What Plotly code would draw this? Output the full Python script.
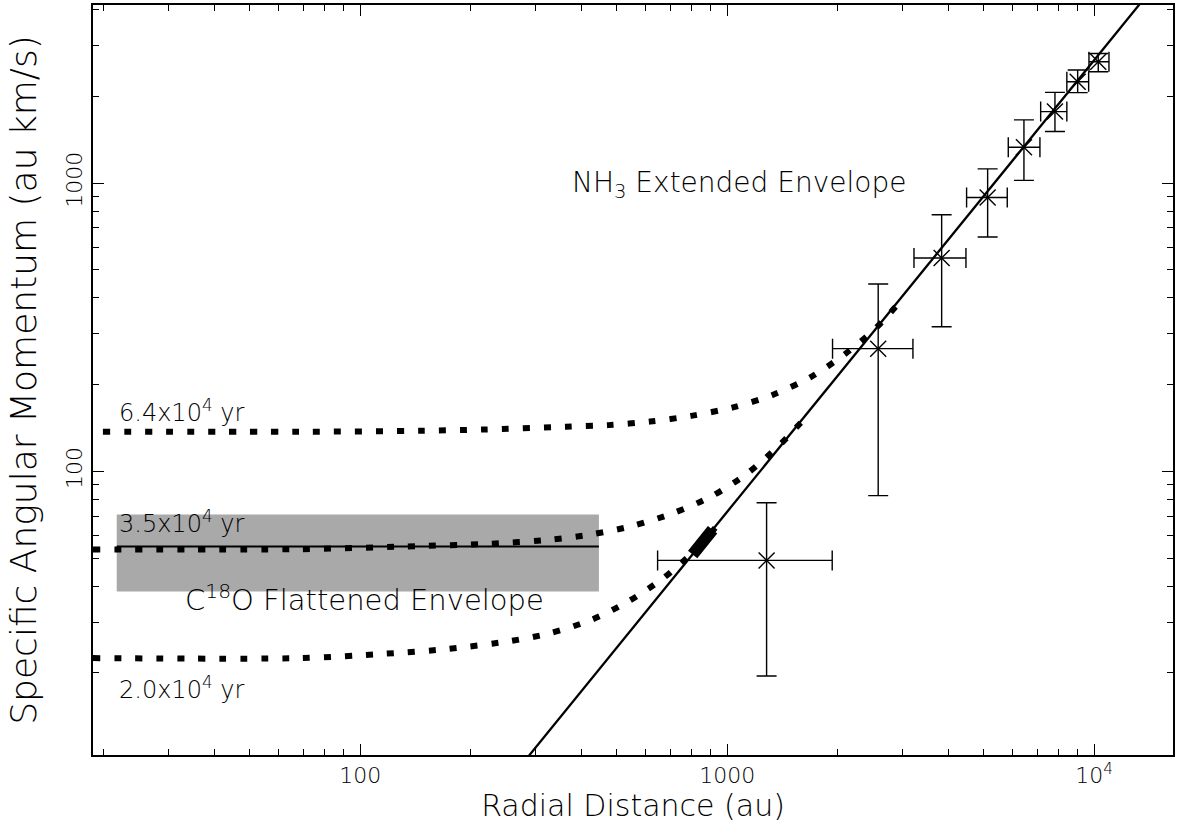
import plotly.graph_objects as go
import numpy as np

# ---- data ----
# NH3 extended-envelope measurements
r_pts = [1280, 2578, 3839, 5123, 6433, 7815, 9012, 10254]
r_lo = [646, 1936, 3227, 4489, 5831, 7145, 8420, 9674]
r_hi = [1932, 3206, 4471, 5794, 7112, 8420, 9654, 10967]
j_pts = [49.1, 266.5, 550, 892, 1332, 1771, 2248, 2637]
j_lo = [19.5, 82.4, 317.5, 650, 1022, 1510, 2060, 2435]
j_hi = [77.8, 447, 777, 1121, 1657, 2065, 2469, 2817]

# power-law fit line (end points)
fit_r = [280, 14000]
fit_j = [9.86, 4529]

# model curves (dotted)
c64_r = [19.9, 68.5, 146.3, 216, 363.5, 474, 616, 798, 1032, 1324, 1680, 2089, 2547, 3044]
c64_j = [137.2, 137.2, 138.3, 139.7, 142.8, 144.7, 148.9, 155.8, 166.5, 183.8, 211.5, 254.8, 315, 404.5]
c35_r = [18.7, 68.5, 133.2, 225.6, 333, 433.5, 557.9, 715.8, 910, 1134, 1383, 1652]
c35_j = [53.6, 53.7, 54.9, 56.1, 58.0, 60.7, 64.9, 71.8, 82.2, 98.4, 122.7, 156.2]
c20_r = [18.7, 68.5, 116.8, 173.4, 257.4, 330.8, 427.9, 539.7, 669.3, 826.8, 969]
c20_j = [22.5, 22.5, 23.3, 24.2, 25.8, 27.5, 30.6, 35.5, 42.6, 54.0, 68.1]
blob_r = [805, 912]
blob_j = [51.5, 62.7]

# C18O flattened envelope band
band_r = [21.7, 447]
band_j = [38.3, 70.8]
band_level = 54.9

x_major = [100, 1000, 10000]
x_major_text = ["100", "1000", "10<sup>4</sup>"]
y_major = [100, 1000]
y_major_text = ["100", "1000"]

FONT = "DejaVu Sans"
WEIGHT = 200
TXT = "black"

fig = go.Figure()

# gray band
fig.add_trace(go.Scatter(
    x=[band_r[0], band_r[1], band_r[1], band_r[0], band_r[0]],
    y=[band_j[0], band_j[0], band_j[1], band_j[1], band_j[0]],
    fill="toself", fillcolor="#a9a9a9", mode="none", hoverinfo="skip"))
fig.add_trace(go.Scatter(x=band_r, y=[band_level, band_level], mode="lines",
                         line=dict(color="black", width=2)))

# dotted model curves
for cr, cj in [(c64_r, c64_j), (c35_r, c35_j), (c20_r, c20_j)]:
    fig.add_trace(go.Scatter(x=cr, y=cj, mode="lines",
                             line=dict(color="black", width=6, dash="7px,14px",
                                       shape="spline", smoothing=0.8)))
fig.add_trace(go.Scatter(x=blob_r, y=blob_j, mode="lines",
                         line=dict(color="black", width=12)))

# fit line
fig.add_trace(go.Scatter(x=fit_r, y=fit_j, mode="lines",
                         line=dict(color="black", width=2.3)))

# data points with error bars
fig.add_trace(go.Scatter(
    x=r_pts, y=j_pts, mode="markers",
    marker=dict(symbol="x-thin", size=16, line=dict(color="black", width=1.4)),
    error_x=dict(type="data", symmetric=False,
                 array=[h - v for h, v in zip(r_hi, r_pts)],
                 arrayminus=[v - l for l, v in zip(r_lo, r_pts)],
                 color="black", thickness=1.4, width=10),
    error_y=dict(type="data", symmetric=False,
                 array=[h - v for h, v in zip(j_hi, j_pts)],
                 arrayminus=[v - l for l, v in zip(j_lo, j_pts)],
                 color="black", thickness=1.4, width=10)))

def minor_vals(lo, hi):
    vals = []
    for e in range(lo, hi):
        for k in range(2, 10):
            vals.append(k * 10 ** e)
    return vals

axis_common = dict(
    type="log", showgrid=False, zeroline=False,
    showline=True, linecolor="black", linewidth=1.5, mirror="ticks",
    ticks="inside", ticklen=11, tickwidth=1.3, tickcolor="black",
    tickfont=dict(family=FONT, size=22, color=TXT, weight=WEIGHT),
    minor=dict(ticks="inside", ticklen=6, tickwidth=1.3, tickcolor="black",
               tickmode="array", showgrid=False),
)

fig.update_xaxes(**axis_common)
fig.update_xaxes(range=[np.log10(18.7), np.log10(16390)],
                 tickmode="array", tickvals=x_major, ticktext=x_major_text,
                 minor_tickvals=minor_vals(1, 5),
                 title=dict(text="Radial Distance (au)",
                            font=dict(family=FONT, size=30, color=TXT, weight=WEIGHT),
                            standoff=8))
fig.update_yaxes(**axis_common)
fig.update_yaxes(range=[1.016, 3.618],
                 tickmode="array", tickvals=y_major, ticktext=y_major_text,
                 tickangle=-90,
                 minor_tickvals=minor_vals(1, 4),
                 title=dict(text="Specific Angular Momentum (au km/s)",
                            font=dict(family=FONT, size=36, color=TXT, weight=WEIGHT),
                            standoff=15))

big_font = dict(family=FONT, size=28, color=TXT, weight=WEIGHT)
c18_font = dict(family=FONT, size=29, color=TXT, weight=WEIGHT)
small_font = dict(family=FONT, size=24, color=TXT, weight=WEIGHT)
labels = [
    ("NH<sub>3</sub> Extended Envelope", 373, 990, big_font),
    ("6.4x10<sup>4</sup> yr", 21.7, 162.2, small_font),
    ("3.5x10<sup>4</sup> yr", 21.7, 66.5, small_font),
    ("C<sup>18</sup>O Flattened Envelope", 32.9, 36.3, c18_font),
    ("2.0x10<sup>4</sup> yr", 21.7, 17.7, small_font),
]
for txt, xv, yv, fnt in labels:
    fig.add_annotation(x=np.log10(xv), y=np.log10(yv), xref="x", yref="y",
                       text=txt, showarrow=False, xanchor="left", yanchor="middle",
                       font=fnt)

fig.update_layout(
    width=1178, height=830,
    margin=dict(l=93, r=5, t=3, b=75),
    plot_bgcolor="white", paper_bgcolor="white",
    showlegend=False,
    font=dict(family=FONT),
)

fig.write_html("out.html")
